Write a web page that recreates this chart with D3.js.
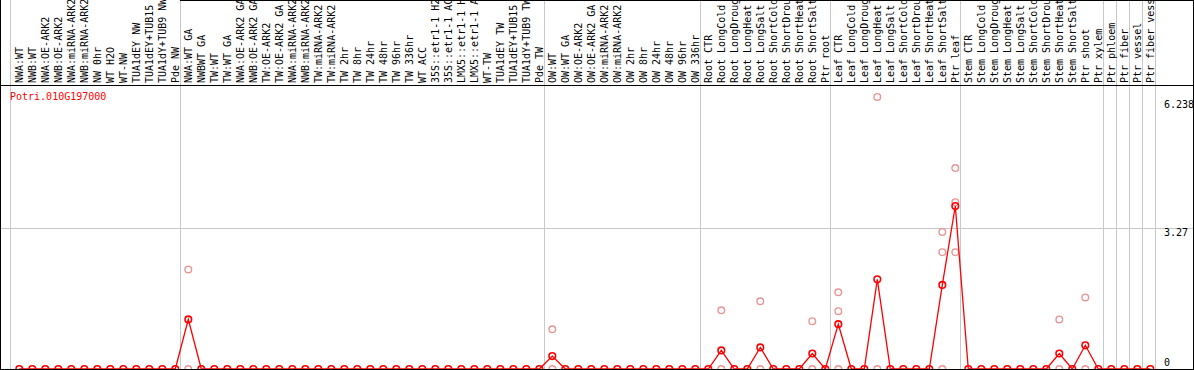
<!DOCTYPE html>
<html lang="en">
    <head>
        <title>Potri.010G197000 expression</title>
        <script src="https://d3js.org/d3.v7.min.js"></script>
        <style>
            body { margin: 0; background: #fff; }
            text { font-family: 'DejaVu Sans Mono', monospace; font-size: 10px; }
        </style>
    </head>
    <body>
    <div id="mainDiv"></div>

        <script type="text/javascript">
            // sample names, in column order
            const samples = [
                'NWA:WT', 'NWB:WT', 'NWA:OE-ARK2', 'NWB:OE-ARK2', 'NWA:miRNA-ARK2', 'NWB:miRNA-ARK2',
                'NW 0hr', 'WT H2O', 'WT-NW', 'TUA1dEY NW', 'TUA1dEY+TUB15', 'TUA1dY+TUB9 NW', 'Pde NW',
                'NWA:WT GA', 'NWBWT GA', 'TW:WT', 'TW:WT GA', 'NWA:OE-ARK2 GA', 'NWB:OE-ARK2 GA',
                'TW:OE-ARK2', 'TW:OE-ARK2 GA', 'NWA:miRNA-ARK2', 'NWB:miRNA-ARK2', 'TW:miRNA-ARK2',
                'TW:miRNA-ARK2', 'TW 2hr', 'TW 8hr', 'TW 24hr', 'TW 48hr', 'TW 96hr', 'TW 336hr',
                'WT ACC', '35S::etr1-1 H2O', '35S::etr1-1 ACC', 'LMX5::etr1-1 H2O', 'LMX5::etr1-1 ACC',
                'WT-TW', 'TUA1dEY TW', 'TUA1dEY+TUB15', 'TUA1dY+TUB9 TW', 'Pde TW',
                'OW:WT', 'OW:WT GA', 'OW:OE-ARK2', 'OW:OE-ARK2 GA', 'OW:miRNA-ARK2', 'OW:miRNA-ARK2',
                'OW 2hr', 'OW 8hr', 'OW 24hr', 'OW 48hr', 'OW 96hr', 'OW 336hr',
                'Root CTR', 'Root LongCold', 'Root LongDrought', 'Root LongHeat', 'Root LongSalt',
                'Root ShortCold', 'Root ShortDrought', 'Root ShortHeat', 'Root ShortSalt', 'Ptr root',
                'Leaf CTR', 'Leaf LongCold', 'Leaf LongDrought', 'Leaf LongHeat', 'Leaf LongSalt',
                'Leaf ShortCold', 'Leaf ShortDrought', 'Leaf ShortHeat', 'Leaf ShortSalt', 'Ptr leaf',
                'Stem CTR', 'Stem LongCold', 'Stem LongDrought', 'Stem LongHeat', 'Stem LongSalt',
                'Stem ShortCold', 'Stem ShortDrought', 'Stem ShortHeat', 'Stem ShortSalt',
                'Ptr shoot', 'Ptr xylem', 'Ptr phloem', 'Ptr fiber', 'Ptr vessel', 'Ptr fiber vessel'
            ]

            // mean expression per sample
            const means = [
                0, 0, 0, 0, 0, 0, 0, 0, 0, 0, 0, 0, 0,
                1.15, 0, 0, 0, 0, 0, 0, 0, 0, 0, 0, 0, 0, 0, 0, 0, 0, 0, 0, 0, 0, 0, 0, 0, 0, 0, 0, 0,
                0.30, 0, 0, 0, 0, 0, 0, 0, 0, 0, 0, 0,
                0, 0.43, 0, 0, 0.50, 0, 0, 0, 0.36, 0,
                1.04, 0, 0, 2.08, 0, 0, 0, 0, 1.95, 3.78,
                0, 0, 0, 0, 0, 0, 0, 0.36, 0, 0.55, 0,
                0, 0, 0, 0
            ]

            // single replicates: [sample, value]
            const replicates = [
                ['NWA:WT GA', 2.31], ['NWA:WT GA', 0],
                ['OW:WT', 0.92], ['OW:WT', 0],
                ['Root LongCold', 1.36], ['Root LongCold', 0],
                ['Root LongSalt', 1.57], ['Root LongSalt', 0],
                ['Root ShortSalt', 1.11], ['Root ShortSalt', 0],
                ['Leaf CTR', 1.78], ['Leaf CTR', 1.34], ['Leaf CTR', 0],
                ['Leaf LongHeat', 6.31], ['Leaf LongHeat', 0],
                ['Leaf ShortSalt', 3.18], ['Leaf ShortSalt', 2.71], ['Leaf ShortSalt', 0],
                ['Ptr leaf', 4.66], ['Ptr leaf', 3.87], ['Ptr leaf', 2.71],
                ['Stem ShortHeat', 1.15], ['Stem ShortHeat', 0],
                ['Ptr shoot', 1.66], ['Ptr shoot', 0]
            ]

            // first column of each tissue group (last entry closes the final group)
            const groupStarts = [0, 13, 41, 53, 63, 73, 84, 85, 86, 87, 88]
            const yTicks = [0, 3.27, 6.238]
            const geneId = 'Potri.010G197000'

            const width = 1194
            const height = 370
            const plot = { left: 10, right: 1154, top: 85, bottom: 369 }

            const svg = d3.select('#mainDiv').append('svg')
                .attr('width', width)
                .attr('height', height)
                .style('display', 'block')

            const idx = d3.range(samples.length)
            const xScale = d3.scaleBand()
                .domain(idx)
                .range([plot.left, plot.right])
            const cx = i => xScale(i) + 9.3

            const yScale = d3.scaleLinear()
                .domain([0, 3.27])
                .range([plot.bottom, 228])

            // grey group separators, full height
            const sepX = (d, i) => Math.round(d < samples.length ? xScale(d) : plot.right) + (i === 0 ? 0.5 : 1.5)
            svg.append('g').selectAll('line')
                .data(groupStarts)
                .join('line')
                .attr('x1', sepX)
                .attr('x2', sepX)
                .attr('y1', 0)
                .attr('y2', height)
                .attr('stroke', '#c8c8c8')

            // grid line at the middle tick
            svg.append('line')
                .attr('x1', 0).attr('x2', width)
                .attr('y1', Math.round(yScale(yTicks[1])) + 0.5)
                .attr('y2', Math.round(yScale(yTicks[1])) + 0.5)
                .attr('stroke', '#c8c8c8')

            // sample labels, rotated (long ones run off the top, as in the original)
            svg.append('g').selectAll('text')
                .data(idx)
                .join('text')
                .attr('transform', i => `translate(${xScale(i) + 12.5}, 83) rotate(-90)`)
                .attr('fill', '#000')
                .text(i => samples[i])

            // frame
            const frame = svg.append('g').attr('stroke', '#000').attr('fill', 'none')
            frame.append('line').attr('x1', 0.5).attr('x2', 0.5).attr('y1', 0).attr('y2', height)
            frame.append('line').attr('x1', width - 0.5).attr('x2', width - 0.5).attr('y1', 0).attr('y2', height)
            frame.append('line').attr('x1', 180).attr('x2', width).attr('y1', 0.5).attr('y2', 0.5)
            frame.append('line').attr('x1', 0).attr('x2', width).attr('y1', plot.top + 0.5).attr('y2', plot.top + 0.5)

            // y tick labels on the right
            svg.append('g').selectAll('text')
                .data(yTicks)
                .join('text')
                .attr('x', 1164)
                .attr('y', d => d === 0 ? 365.5 : yScale(d) + 7.5)
                .attr('fill', '#000')
                .text(d => d)

            // gene id
            svg.append('text')
                .attr('x', 10)
                .attr('y', 100)
                .attr('fill', '#ff0000')
                .text(geneId)

            // replicate points
            svg.append('g').selectAll('circle')
                .data(replicates)
                .join('circle')
                .attr('cx', d => cx(samples.indexOf(d[0])))
                .attr('cy', d => yScale(d[1]))
                .attr('r', 3.3)
                .attr('fill', 'none')
                .attr('stroke', '#ea9494')
                .attr('stroke-width', 1.4)

            // mean line
            const line = d3.line()
                .x((d, i) => cx(i))
                .y(d => yScale(d))
            svg.append('path')
                .datum(means)
                .attr('d', line)
                .attr('fill', 'none')
                .attr('stroke', '#ff0000')
                .attr('stroke-width', 1.3)

            // mean points
            svg.append('g').selectAll('circle')
                .data(means)
                .join('circle')
                .attr('cx', (d, i) => cx(i))
                .attr('cy', d => yScale(d))
                .attr('r', 3.3)
                .attr('fill', 'none')
                .attr('stroke', '#ff0000')
                .attr('stroke-width', 1.6)

            // bottom edge
            svg.append('line')
                .attr('x1', 0).attr('x2', width)
                .attr('y1', plot.bottom + 0.5).attr('y2', plot.bottom + 0.5)
                .attr('stroke', '#000')
        </script>
    </body>
</html>
